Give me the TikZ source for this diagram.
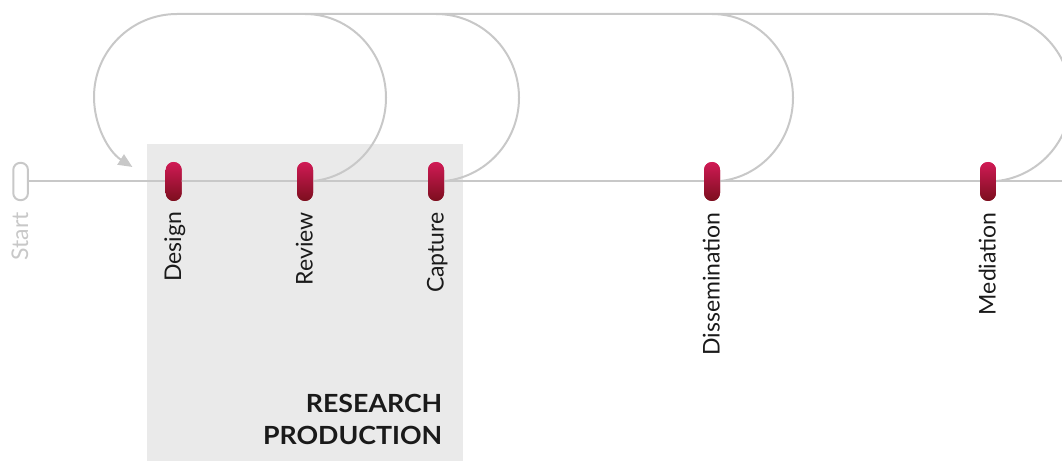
\documentclass[tikz,border=0pt]{standalone}
\usepackage{fontspec}
\setmainfont{Lato}
\newfontfamily\titlefont[FakeStretch=1.07]{Lato}
\usetikzlibrary{arrows.meta}
\definecolor{linegray}{HTML}{C8C8C8}
\definecolor{boxgray}{HTML}{EAEAEA}
\definecolor{pilltop}{HTML}{D01A55}
\definecolor{pillbot}{HTML}{7C0E1E}
\definecolor{textcol}{HTML}{1A1A1A}
\begin{document}
\begin{tikzpicture}[x=1pt,y=1pt,
  flow/.style={draw=linegray, line width=2pt},
  pill/.style={rounded corners=8pt, minimum width=16pt, minimum height=39pt, inner sep=0pt, top color=pilltop, bottom color=pillbot, draw=none},
  startbox/.style={draw=linegray, line width=2pt, fill=white, rounded corners=7pt, minimum width=14.7pt, minimum height=37.3pt, inner sep=0pt},
  lbl/.style={rotate=90, anchor=base east, font=\fontsize{23}{27}\selectfont, text=textcol, inner sep=0pt},
  area/.style={fill=boxgray, draw=none},
  title/.style={font=\titlefont\bfseries\fontsize{25}{32}\selectfont, text=textcol, align=right, anchor=south east, inner sep=0pt}
]
\useasboundingbox (0,0) rectangle (1062,461);
\clip (0,0) rectangle (1062,461);
% research production area
\fill[area] (146.7,0) rectangle (462.7,317);
\node[title] (rp) at (442.5,16) {RESEARCH\\PRODUCTION};
% nodes
\node[startbox] (start) at (20.6,279.5) {};
\coordinate (lineend) at (1062,279.5);
\coordinate (topleft) at (177,447);
\node[pill] (design) at (173.7,279.5) {};
\node[pill] (review) at (305,279.5) {};
\node[pill] (capture) at (436,279.5) {};
\node[pill] (dissem) at (712,279.5) {};
\node[pill] (mediation) at (988,279.5) {};
% connectors
\draw[flow] (start.east) -- (lineend);
\draw[flow] (review.center) arc[start angle=-90, end angle=90, x radius=81, y radius=83.75];
\draw[flow] (capture.center) arc[start angle=-90, end angle=90, x radius=83, y radius=83.75];
\draw[flow] (dissem.center) arc[start angle=-90, end angle=90, x radius=81, y radius=83.75];
\draw[flow, -{Triangle[length=14pt, width=12pt]}] (mediation.center) arc[start angle=-90, end angle=90, x radius=83, y radius=83.75] -- (topleft) arc[start angle=90, end angle=237.5, radius=83];
% pills on top of the connectors
\node[pill] at (design) {};
\node[pill] at (review) {};
\node[pill] at (capture) {};
\node[pill] at (dissem) {};
\node[pill] at (mediation) {};
% labels
\node[lbl, text=linegray] (startlbl) at (28.1,249) {Start};
\node[lbl] (designlbl) at (181.2,249) {Design};
\node[lbl] (reviewlbl) at (312.5,249) {Review};
\node[lbl] (capturelbl) at (443.5,249) {Capture};
\node[lbl] (dissemlbl) at (719.5,249) {Dissemination};
\node[lbl] (mediationlbl) at (995.5,249) {Mediation};
\end{tikzpicture}
\end{document}
